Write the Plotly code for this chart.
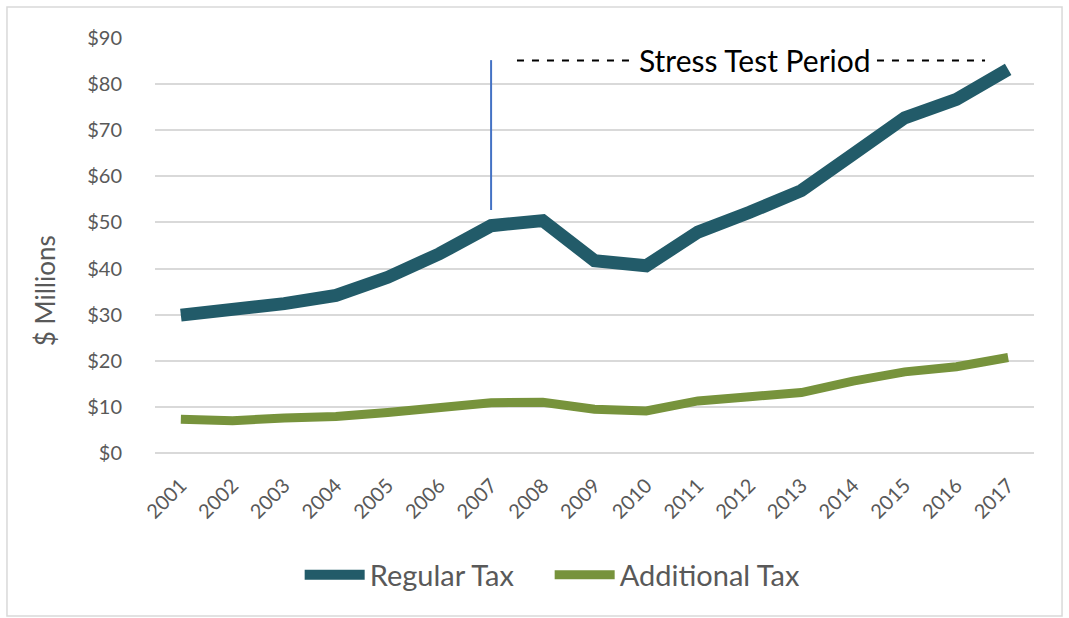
"""Regular vs additional tax revenue, 2001-2017, with stress test marker."""

import plotly.graph_objects as go

years = [str(y) for y in range(2001, 2018)]
regular_tax = [29.9, 31.0, 32.4, 34.2, 38.1, 43.2, 49.3, 50.4, 41.7, 40.6,
               47.9, 52.2, 56.9, 64.8, 72.7, 76.7, 83.2]
additional_tax = [7.3, 7.0, 7.6, 7.9, 8.8, 9.7, 10.9, 11.0, 9.5, 9.1,
                  11.3, 12.2, 13.1, 15.6, 17.6, 18.7, 20.7]

stress_start = "2007"
marker_bottom, marker_top = 52.7, 85.2
stress_label = "Stress Test Period"

FONT = "Lato, 'Open Sans', sans-serif"
GRAY = "#595959"

fig = go.Figure()
fig.add_trace(go.Scatter(
    x=years, y=regular_tax, mode="lines", name="Regular Tax",
    line={"color": "#225b69", "width": 13},
))
fig.add_trace(go.Scatter(
    x=years, y=additional_tax, mode="lines", name="Additional Tax",
    line={"color": "#77933c", "width": 9},
))

# chart border
fig.add_shape(type="rect", xref="paper", yref="paper",
              x0=-0.1684, x1=1.0319, y0=-0.3928, y1=1.0747,
              line={"color": "#d9d9d9", "width": 1.5}, layer="below")

# stress test start marker (category index on the x axis)
start_idx = years.index(stress_start)
fig.add_shape(type="line", xref="x", yref="y",
              x0=start_idx, x1=start_idx, y0=marker_bottom, y1=marker_top,
              line={"color": "#4472c4", "width": 2})
fig.add_shape(type="line", xref="paper", yref="y",
              x0=0.4118, x1=0.9443, y0=85.1, y1=85.1,
              line={"color": "black", "width": 2, "dash": "7px,8px"})
fig.add_annotation(text=stress_label, xref="paper", yref="y",
                   x=0.6826, y=85.3, xanchor="center", yanchor="middle",
                   showarrow=False,
                   font={"family": FONT, "size": 30, "color": "black"},
                   bgcolor="white", borderpad=4)

fig.add_annotation(text="$ Millions", xref="paper", yref="paper",
                   x=-0.1251, y=0.39, xanchor="center", yanchor="middle",
                   textangle=-90, showarrow=False,
                   font={"family": FONT, "size": 26, "color": GRAY})

fig.update_layout(
    width=1069, height=618,
    margin={"l": 155, "r": 35, "t": 38, "b": 165, "autoexpand": False},
    plot_bgcolor="white", paper_bgcolor="white",
    font={"family": FONT, "color": GRAY},
    showlegend=True,
    legend={"orientation": "h", "x": 0.449, "xanchor": "center",
            "y": -0.294, "yanchor": "middle",
            "font": {"size": 29, "color": GRAY}, "itemwidth": 60,
            "entrywidth": 175},
)
fig.update_xaxes(
    type="category", range=[-0.5, len(years) - 0.5], tickangle=-45,
    showgrid=False, showline=False,
    tickfont={"size": 20, "color": GRAY}, ticklabelstandoff=16,
)
fig.update_yaxes(
    range=[0, 90], dtick=10, tickprefix="$", showgrid=True,
    gridcolor="#d9d9d9", gridwidth=2, zeroline=True, zerolinecolor="#d9d9d9",
    zerolinewidth=2, showline=False,
    tickfont={"size": 20, "color": GRAY}, ticklabelstandoff=32,
)

fig.write_html("out.html", config={"displayModeBar": False},
               post_script="document.body.style.margin='0';")
